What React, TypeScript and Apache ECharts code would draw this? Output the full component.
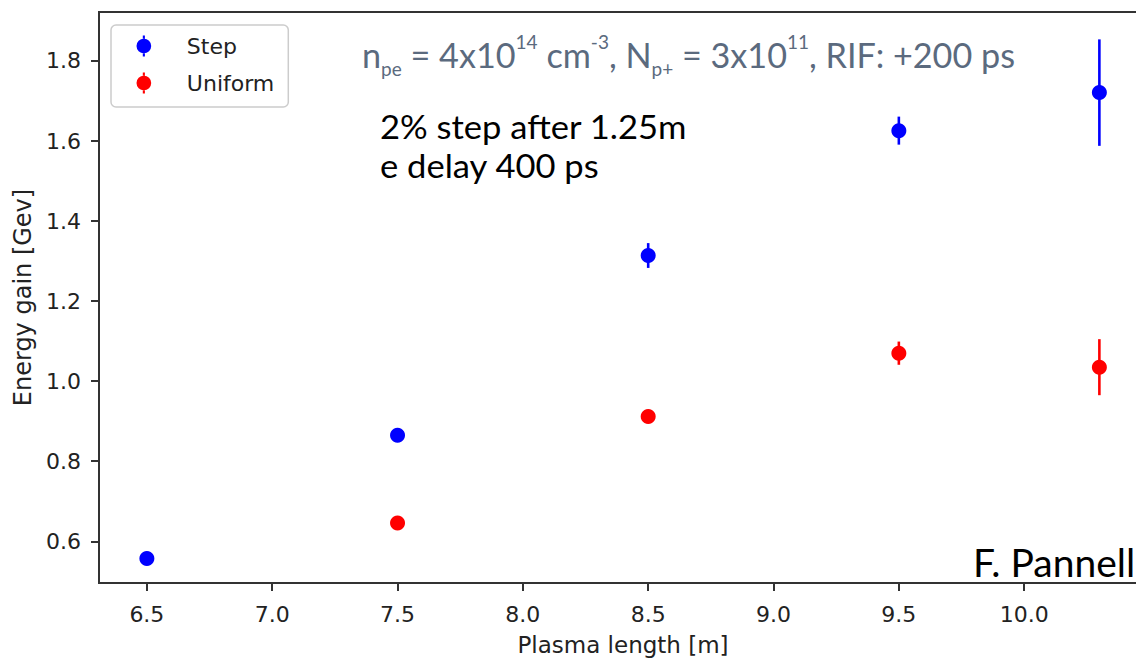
import React, { useEffect, useRef } from "react";
import * as echarts from "echarts";

// Plasma length [m] for each simulated case
const stepLength = [6.5, 7.5, 8.5, 9.5, 10.3];
const stepGain = [0.557, 0.865, 1.314, 1.626, 1.721];
const stepErr = [0.008, 0.01, 0.031, 0.035, 0.133];

const uniformLength = [7.5, 8.5, 9.5, 10.3];
const uniformGain = [0.646, 0.912, 1.07, 1.035];
const uniformErr = [0.008, 0.012, 0.029, 0.07];

const xTicks = [6.5, 7.0, 7.5, 8.0, 8.5, 9.0, 9.5, 10.0];
const yTicks = [0.6, 0.8, 1.0, 1.2, 1.4, 1.6, 1.8];

const BLUE = "#0000ff";
const RED = "#ff0000";
const AXIS = "#333333";
const MPL_FONT = "'DejaVu Sans', sans-serif";
const SLIDE_FONT = "Lato, 'Open Sans', sans-serif";
const NOTE_COLOR = "#5b6a7e";

// filled marker with short error-bar stubs above and below
const LEGEND_ICON =
  "path://M0,12a7,7 0 1,0 14,0a7,7 0 1,0 -14,0zM6,2h2v3.3h-2zM6,18.7h2v3.3h-2z";

function errorSeries(name: string, xs: number[], ys: number[], errs: number[], color: string) {
  return {
    name,
    type: "custom",
    z: 2,
    data: xs.map((x, i) => [x, ys[i], errs[i]]),
    encode: { x: 0, y: 1 },
    renderItem: (_params: any, api: any) => {
      const x = api.value(0);
      const y = api.value(1);
      const e = api.value(2);
      const lo = api.coord([x, y - e]);
      const hi = api.coord([x, y + e]);
      return {
        type: "line",
        shape: { x1: lo[0], y1: lo[1], x2: hi[0], y2: hi[1] },
        style: { stroke: color, lineWidth: 2.6 },
      };
    },
  };
}

export default function App() {
  const ref = useRef<HTMLDivElement>(null);

  useEffect(() => {
    if (!ref.current) return;
    const chart = echarts.init(ref.current, undefined, { renderer: "svg" });

    chart.setOption({
      animation: false,
      backgroundColor: "#ffffff",
      grid: {
        left: 99,
        top: 12,
        right: -11,
        bottom: 76,
        containLabel: false,
        outerBoundsMode: "none",
        show: true,
        borderColor: AXIS,
        borderWidth: 2,
        backgroundColor: "transparent",
      },
      legend: {
        orient: "vertical",
        left: 111,
        top: 25,
        padding: [10, 14, 13, 25.5],
        itemGap: 15,
        itemWidth: 15,
        itemHeight: 21,
        backgroundColor: "rgba(255,255,255,0.85)",
        borderColor: "#cccccc",
        borderWidth: 1.5,
        borderRadius: 5,
        textStyle: {
          fontFamily: MPL_FONT,
          fontSize: 22,
          color: "#222222",
          lineHeight: 22,
          padding: [0, 0, 0, 30.5],
        },
        data: [
          { name: "Step", icon: LEGEND_ICON },
          { name: "Uniform", icon: LEGEND_ICON },
        ],
      },
      xAxis: {
        type: "value",
        min: 6.309,
        max: 10.49,
        name: "Plasma length [m]",
        nameLocation: "middle",
        nameGap: 50,
        nameTextStyle: { fontFamily: MPL_FONT, fontSize: 23, color: "#222222" },
        splitLine: { show: false },
        axisLine: { show: true, lineStyle: { color: AXIS, width: 2 } },
        axisTick: {
          show: true,
          length: 8,
          lineStyle: { color: AXIS, width: 2 },
          customValues: xTicks,
        },
        axisLabel: {
          fontFamily: MPL_FONT,
          fontSize: 22,
          color: "#222222",
          margin: 20,
          customValues: xTicks,
          formatter: (v: number) => v.toFixed(1),
        },
      },
      yAxis: {
        type: "value",
        min: 0.4958,
        max: 1.9224,
        name: "Energy gain [Gev]",
        nameLocation: "middle",
        nameGap: 59,
        nameRotate: 90,
        nameTextStyle: { fontFamily: MPL_FONT, fontSize: 24, color: "#222222" },
        splitLine: { show: false },
        axisLine: { show: true, lineStyle: { color: AXIS, width: 2 } },
        axisTick: {
          show: true,
          length: 8,
          lineStyle: { color: AXIS, width: 2 },
          customValues: yTicks,
        },
        axisLabel: {
          fontFamily: MPL_FONT,
          fontSize: 22,
          color: "#222222",
          margin: 18,
          customValues: yTicks,
          formatter: (v: number) => v.toFixed(1),
        },
      },
      series: [
        errorSeries("Step error", stepLength, stepGain, stepErr, BLUE),
        errorSeries("Uniform error", uniformLength, uniformGain, uniformErr, RED),
        {
          name: "Step",
          type: "scatter",
          z: 3,
          symbol: "circle",
          symbolSize: 15,
          itemStyle: { color: BLUE, opacity: 1 },
          data: stepLength.map((x, i) => [x, stepGain[i]]),
        },
        {
          name: "Uniform",
          type: "scatter",
          z: 3,
          symbol: "circle",
          symbolSize: 15,
          itemStyle: { color: RED, opacity: 1 },
          data: uniformLength.map((x, i) => [x, uniformGain[i]]),
        },
      ],
      graphic: [
        {
          type: "text",
          left: 362,
          top: 31,
          z: 10,
          style: {
            text:
              "{n|n}{sub|pe}{n| = 4x10}{sup|14}{n| cm}{sup|-3}{n|, N}{sub|p+}{n| = 3x10}{sup|11}{n|, RIF: +200 ps}",
            fill: NOTE_COLOR,
            rich: {
              n: { fontFamily: SLIDE_FONT, fontSize: 34.2, fill: NOTE_COLOR, lineHeight: 40 },
              sub: {
                fontFamily: SLIDE_FONT,
                fontSize: 19,
                fill: NOTE_COLOR,
                lineHeight: 40,
                padding: [28, 0, 0, 0],
              },
              sup: {
                fontFamily: SLIDE_FONT,
                fontSize: 19,
                fill: NOTE_COLOR,
                lineHeight: 40,
                padding: [0, 0, 26, 0],
              },
            },
          },
        },
        {
          type: "text",
          left: 380,
          top: 111,
          z: 10,
          scaleX: 1.08,
          style: {
            text: "2% step after 1.25m",
            font: `32px ${SLIDE_FONT}`,
            fill: "#000000",
          },
        },
        {
          type: "text",
          left: 380,
          top: 149.5,
          z: 10,
          scaleX: 1.08,
          style: {
            text: "e delay 400 ps",
            font: `32px ${SLIDE_FONT}`,
            fill: "#000000",
          },
        },
        {
          type: "text",
          left: 973,
          top: 542,
          z: 10,
          style: {
            text: "F. Pannell",
            font: `39px ${SLIDE_FONT}`,
            fill: "#000000",
          },
        },
      ],
    });

    return () => chart.dispose();
  }, []);

  return (
    <div
      ref={ref}
      style={{ position: "absolute", left: 0, top: 0, width: 1136, height: 659 }}
    />
  );
}
